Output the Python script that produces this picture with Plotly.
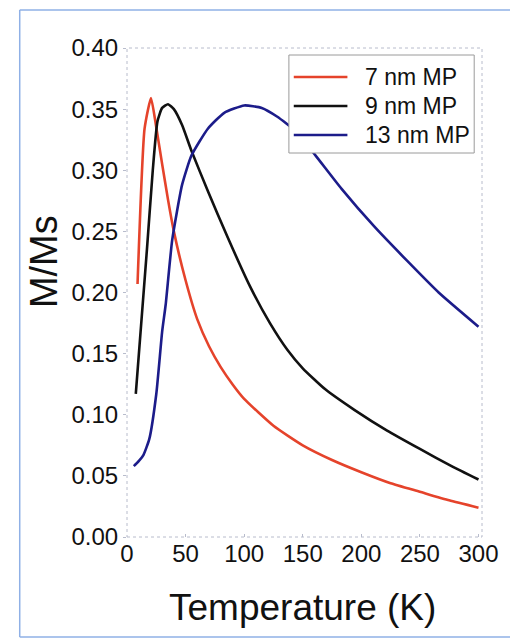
import plotly.graph_objects as go

# ---- data ----
series_names = ["7 nm MP", "9 nm MP", "13 nm MP"]

t_7nm = [9, 15, 20.5, 25, 30, 35, 40, 50, 60, 70, 80, 90, 100, 125, 150, 175, 200, 225, 250, 275, 300]
m_7nm = [0.207, 0.334, 0.359, 0.335, 0.305, 0.276, 0.250, 0.210, 0.178, 0.156, 0.139, 0.125, 0.113,
         0.091, 0.075, 0.063, 0.053, 0.044, 0.037, 0.030, 0.024]

t_9nm = [7.5, 17, 22, 26, 30, 35, 40, 47, 55, 69, 86, 105, 122, 137, 150, 169, 194, 222, 250, 277, 300]
m_9nm = [0.117, 0.235, 0.300, 0.340, 0.351, 0.354, 0.350, 0.337, 0.316, 0.283, 0.245, 0.205, 0.175,
         0.153, 0.138, 0.121, 0.104, 0.087, 0.072, 0.058, 0.047]

t_13nm = [5.8, 10, 14, 19, 25, 30, 33, 38.6, 47, 55, 69, 83, 100, 115, 128, 144, 161, 183, 211, 239, 266, 300]
m_13nm = [0.058, 0.062, 0.067, 0.080, 0.117, 0.168, 0.190, 0.243, 0.288, 0.312, 0.334, 0.347, 0.353,
          0.351, 0.344, 0.332, 0.312, 0.285, 0.254, 0.226, 0.200, 0.172]

x_ticks = [0, 50, 100, 150, 200, 250, 300]
y_ticks = [0.00, 0.05, 0.10, 0.15, 0.20, 0.25, 0.30, 0.35, 0.40]

colors = ["#e5432b", "#111111", "#1c1c8a"]

# ---- layout geometry (page pixels; page body margin is removed) ----
W, H = 510, 639
L, R, T, B = 127, 491, 48, 537


def px(xp):
    return (xp - L) / (R - L)


def py(yp):
    return (B - yp) / (B - T)


fig = go.Figure()
for name, xs, ys, c in zip(series_names, [t_7nm, t_9nm, t_13nm], [m_7nm, m_9nm, m_13nm], colors):
    fig.add_trace(go.Scatter(x=xs, y=ys, mode="lines", name=name,
                             line=dict(color=c, width=2.6, shape="spline", smoothing=0.5),
                             showlegend=False))

font = "Liberation Sans, Arial, sans-serif"
shapes = []
annotations = []

# outer frame (top, left, bottom edges; right edge lies outside the picture)
frame = dict(color="#8fb0e6", width=1.5)
for x0, y0, x1, y1 in [(17, 10, 530, 10), (17, 10, 17, 637), (17, 637, 530, 637)]:
    shapes.append(dict(type="line", xref="paper", yref="paper",
                       x0=px(x0), y0=py(y0), x1=px(x1), y1=py(y1), line=frame))
# plot border (dotted)
shapes.append(dict(type="rect", xref="paper", yref="paper",
                   x0=0, x1=1, y0=0, y1=1,
                   line=dict(color="#b8bccc", width=1, dash="dot")))

# legend
shapes.append(dict(type="rect", xref="paper", yref="paper",
                   x0=px(293), x1=px(483), y0=py(153), y1=py(55),
                   line=dict(color="#9a9a9a", width=1), fillcolor="white"))
for i, (name, c) in enumerate(zip(series_names, colors)):
    yc = [77, 106, 135][i]
    shapes.append(dict(type="line", xref="paper", yref="paper",
                       x0=px(298), x1=px(353), y0=py(yc), y1=py(yc),
                       line=dict(color=c, width=2.6)))
    annotations.append(dict(xref="paper", yref="paper", x=px(369), y=py(yc),
                            xanchor="left", yanchor="middle", showarrow=False,
                            text=name, font=dict(family=font, size=23, color="#111")))

# axis titles
annotations.append(dict(xref="paper", yref="paper", x=px(307), y=py(607),
                        xanchor="center", yanchor="middle", showarrow=False,
                        text="Temperature (K)", font=dict(family=font, size=37, color="#111")))
annotations.append(dict(xref="paper", yref="paper", x=px(42), y=py(262),
                        xanchor="center", yanchor="middle", showarrow=False, textangle=-90,
                        text="M/Ms", font=dict(family=font, size=38, color="#111")))

fig.update_layout(
    width=W, height=H,
    margin=dict(l=L, r=W - R, t=T, b=H - B),
    paper_bgcolor="white", plot_bgcolor="white",
    shapes=shapes, annotations=annotations,
    showlegend=False,
)
fig.update_xaxes(range=[0, 303], tickvals=x_ticks, ticktext=[str(v) for v in x_ticks],
                 showgrid=False, zeroline=False, showline=False,
                 ticks="inside", ticklen=3, tickcolor="#b8bccc", ticklabeloverflow="allow",
                 tickfont=dict(family=font, size=24, color="#111"))
fig.update_yaxes(range=[0, 0.40], tickvals=y_ticks, ticktext=[f"{v:.2f}" for v in y_ticks],
                 showgrid=False, zeroline=False, showline=False,
                 ticks="outside", ticklen=3, tickcolor="#b8bccc",
                 tickfont=dict(family=font, size=24, color="#111"))

fig.write_html(
    "out.html",
    config={"displayModeBar": False},
    post_script="document.body.style.margin='0px';document.body.style.overflow='hidden';",
)
